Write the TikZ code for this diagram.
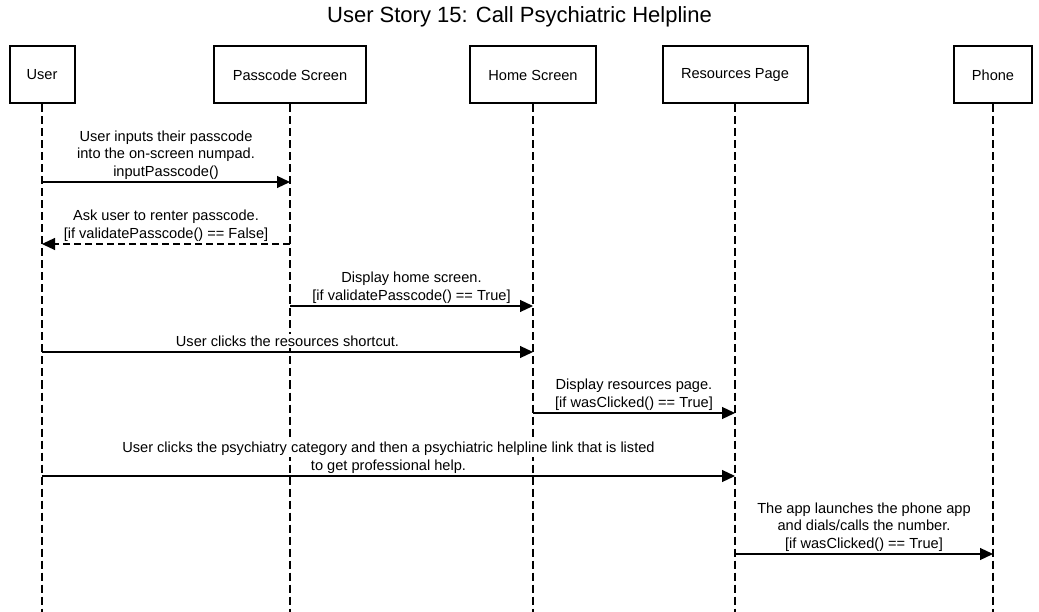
\documentclass[tikz,border=0pt]{standalone}
\usepackage{fontspec}
\setmainfont{Liberation Sans}
\usetikzlibrary{arrows.meta}
\newcommand{\bg}[1]{\colorbox{white}{#1}}
\setlength{\fboxsep}{1.5pt}
\begin{document}
\begin{tikzpicture}[x=1pt,y=-1pt,
    actor/.style={draw,line width=2pt,minimum height=57pt,inner sep=0pt,font=\fontsize{14.6}{17.5}\selectfont},
    lifeline/.style={line width=1.2pt,dash pattern=on 8pt off 4pt},
    msg/.style={line width=1.2pt,-{Triangle[length=13pt,width=12pt]}},
    reply/.style={msg,dash pattern=on 7pt off 4pt},
    lbl/.style={midway,anchor=south,yshift=1pt,align=center,inner sep=0pt,text depth=4pt,font=\fontsize{14.6}{17.5}\selectfont}]
    \useasboundingbox (0,0) rectangle (1039,612);
    %% title
    \node[font=\fontsize{22}{26}\selectfont] (title) at (519.5,17) {User Story 15: Call Psychiatric Helpline};
    %% participants and lifelines
    \foreach \n/\x/\w/\t in {user/42/65/User, pass/290/152/Passcode Screen, home/533/126/Home Screen, res/735/145/Resources Page, phone/993/78/Phone}{
        \node[actor,minimum width=\w pt] (\n) at (\x,75) {\t};
        \coordinate (\n-end) at (\x,612);
        \draw[lifeline] (\n) -- (\n-end);
    }
    %% messages
    \draw[msg] (user |- 0,182) -- node[lbl] {\bg{User inputs their passcode}\\\bg{into the on-screen numpad.}\\\bg{inputPasscode()}} (pass |- 0,182);
    \draw[reply] (pass |- 0,244) -- node[lbl] {\bg{Ask user to renter passcode.}\\\bg{[if validatePasscode() == False]}} (user |- 0,244);
    \draw[msg] (pass |- 0,306) -- node[lbl] {\bg{Display home screen.}\\\bg{[if validatePasscode() == True]}} (home |- 0,306);
    \draw[msg] (user |- 0,352) -- node[lbl] {\bg{User clicks the resources shortcut.}} (home |- 0,352);
    \draw[msg] (home |- 0,413) -- node[lbl] {\bg{Display resources page.}\\\bg{[if wasClicked() == True]}} (res |- 0,413);
    \draw[msg] (user |- 0,476) -- node[lbl] {\bg{User clicks the psychiatry category and then a psychiatric helpline link that is listed}\\\bg{to get professional help.}} (res |- 0,476);
    \draw[msg] (res |- 0,554) -- node[lbl] {\bg{The app launches the phone app}\\\bg{and dials/calls the number.}\\\bg{[if wasClicked() == True]}} (phone |- 0,554);
\end{tikzpicture}
\end{document}
